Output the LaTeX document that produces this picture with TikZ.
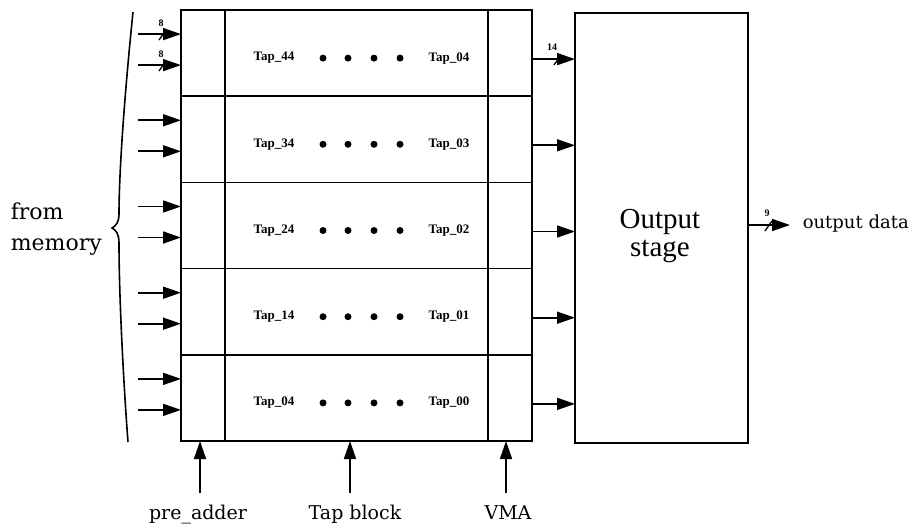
\documentclass[tikz,border=0pt]{standalone}
\usepackage{fontspec}
\setmainfont{DejaVu Serif}
\newfontfamily\timesfont{Liberation Serif}
\usetikzlibrary{arrows.meta}
\begin{document}
\begin{tikzpicture}[x=1pt,y=-1pt,line width=1.6pt,
  cell/.style={draw,inner sep=0pt,outer sep=0pt,minimum height=86.2pt},
  precell/.style={cell,minimum width=44pt},
  tapcell/.style={cell,minimum width=263pt},
  vmacell/.style={cell,minimum width=44pt},
  arr/.style={-{Triangle[length=18pt,width=12pt]}},
  busmark/.style={line width=1.3pt},
  buslbl/.style={inner sep=0pt,font=\timesfont\bfseries\fontsize{10}{10}\selectfont},
  taplbl/.style={inner sep=0pt,font=\timesfont\bfseries\fontsize{13}{13}\selectfont},
  tapdot/.style={circle,fill,inner sep=0pt,minimum size=7pt},
  sidelbl/.style={inner sep=0pt,anchor=base west,font=\fontsize{22}{22}\selectfont},
  botlbl/.style={inner sep=0pt,anchor=base,font=\fontsize{19}{19}\selectfont},
]
\useasboundingbox (0,0) rectangle (914,524);

% output stage
\node[draw,inner sep=0pt,outer sep=0pt,minimum width=173pt,minimum height=430pt] (out) at (661.5,228) {};
\node[align=center,inner sep=0pt,font=\timesfont\fontsize{29}{28}\selectfont] (outlbl) at (660,236) {Output\\stage};

% rows
\foreach \i/\l/\r in {0/44/04,1/34/03,2/24/02,3/14/01,4/04/00}{
  \pgfmathsetmacro\yc{53.1+86.2*\i}
  \node[precell] (pre\i) at (203,\yc) {};
  \node[tapcell] (tap\i) at (356.5,\yc) {};
  \node[vmacell] (vma\i) at (510,\yc) {};
  \node[taplbl] (la\i) at (274,\yc+5) {Tap\_\l};
  \node[taplbl] (lb\i) at (449,\yc+5) {Tap\_\r};
  \node[tapdot] (da\i) at (323,\yc+5) {};
  \node[tapdot] (db\i) at (348,\yc+5) {};
  \node[tapdot] (dc\i) at (374,\yc+5) {};
  \node[tapdot] (dd\i) at (400,\yc+5) {};
  \coordinate (ina\i) at (138,\yc-19);
  \coordinate (inb\i) at (138,\yc+12);
  \draw[arr] (ina\i) -- (ina\i -| pre\i.west);
  \draw[arr] (inb\i) -- (inb\i -| pre\i.west);
  \coordinate (o\i) at ([yshift=-6pt]vma\i.east);
  \draw[arr] (o\i) -- (o\i -| out.west);
}

% bus widths
\draw[busmark] (159,40) -- (166,30);
\node[buslbl] (b8a) at (161,23) {8};
\draw[busmark] (159,71) -- (166,61);
\node[buslbl] (b8b) at (161,54) {8};
\draw[busmark] (554,65) -- (561,55);
\node[buslbl] (b14) at (552,47) {14};

% output data
\coordinate (od) at (790,225);
\draw[arr] (out.east |- od) -- (od);
\draw[busmark] (765,231) -- (772,221);
\node[buslbl] (b9) at (767,213) {9};
\node[inner sep=0pt,anchor=base west,font=\fontsize{18}{18}\selectfont] (odl) at (802,229) {output data};

% brace
\draw (133,12) .. controls (125,90) and (119,170) .. (119,214)
  .. controls (119,222) and (116,226) .. (112,228)
  .. controls (116,230) and (119,234) .. (119,243)
  .. controls (119,300) and (124,390) .. (128,442);
\node[sidelbl] (from) at (10,220) {from};
\node[sidelbl] (mem) at (10,251) {memory};

% bottom pointers
\coordinate (pa) at (200,493);
\coordinate (tb) at (350,493);
\coordinate (vm) at (506,493);
\draw[arr] (pa) -- (pa |- pre4.south);
\draw[arr] (tb) -- (tb |- tap4.south);
\draw[arr] (vm) -- (vm |- vma4.south);
\node[botlbl] (pal) at (198,519) {pre\_adder};
\node[botlbl] (tbl) at (355,519) {Tap block};
\node[botlbl] (vml) at (508,519) {VMA};
\end{tikzpicture}
\end{document}
